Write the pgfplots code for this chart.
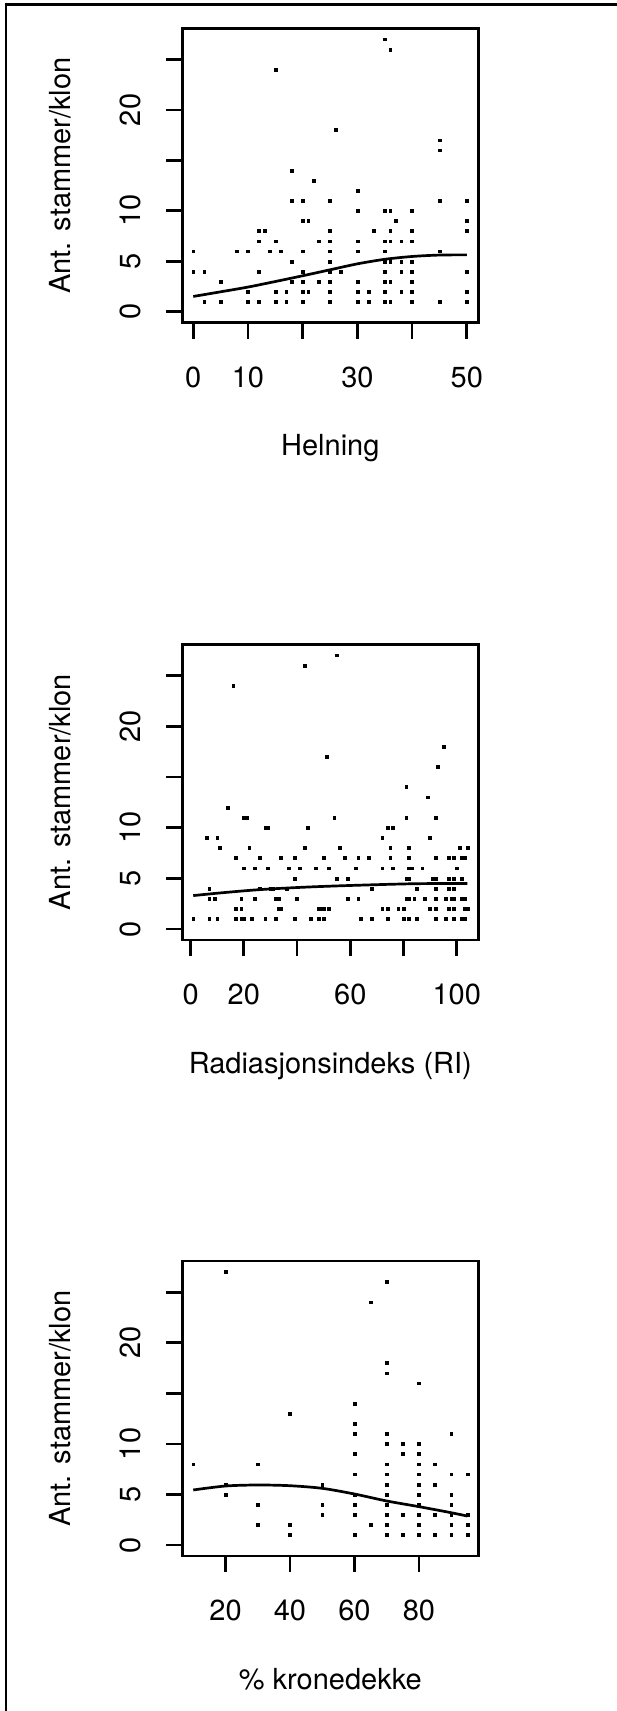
\documentclass[border=0pt]{standalone}
\usepackage{fontspec}
\setmainfont{TeX Gyre Heros}
\usepackage{pgfplots}
\pgfplotsset{compat=1.18}
\newcommand\rf{\fontsize{29}{34}\selectfont}
\pgfplotsset{rplot/.style={
  scale only axis, width=296pt,
  anchor=south west,
  axis line style={line width=2.7pt, line cap=rect},
  tick align=outside, tick pos=left,
  major tick length=16pt,
  every tick/.style={black, line width=2.7pt},
  ymin=-1.08, ymax=28.08,
  ytick={0,5,...,25}, yticklabels={0,5,10,,20,},
  tick label style={font=\rf, inner sep=0pt},
  yticklabel style={rotate=90, anchor=base, yshift=25.6pt},
  xticklabel style={anchor=base, yshift=-48.6pt},
  ylabel={Ant. stammer/klon},
  xlabel style={at={(axis description cs:0.5,-0.4508)}, anchor=base, font=\rf, inner sep=0pt},
  ylabel style={at={(axis description cs:-0.377,0.5)}, anchor=base, font=\rf, inner sep=0pt},
  clip=false,
  /pgf/number format/assume math mode=true,
}, pts/.style={only marks, mark=square*, mark size=1.4pt, mark options={draw=none, fill=black}},
   fit/.style={no marks, smooth, line width=2.7pt, black}}
\begin{document}
\begin{tikzpicture}
\useasboundingbox (0pt,0pt) rectangle (617pt,-1711pt);
\draw[line width=2.7pt] (6pt,-1711pt) -- (6pt,-4.7pt) -- (617pt,-4.7pt);
% Panel 1
\begin{axis}[rplot, at={(182.3pt,-322.7pt)}, height=294.4pt,
  xmin=-2, xmax=52.1, xtick={0,10,...,50}, xticklabels={0,10,,30,,50},
  xlabel={Helning}]
\addplot[pts] table {
x y
35 27
36 26
15 24
26 18
45 17
45 16
18 14
22 13
30 12
18 11
20 11
25 11
45 11
50 11
30 10
35 10
36 10
40 10
20 9
21 9
37 9
50 9
12 8
13 8
25 8
33 8
36 8
40 8
50 8
12 7
15 7
23 7
25 7
30 7
35 7
36 7
38 7
40 7
0 6
8 6
10 6
14 6
16 6
20 6
25 6
30 6
35 6
45 6
18 5
25 5
35 5
36 5
38 5
40 5
0 4
2 4
12 4
20 4
25 4
27 4
35 4
38 4
40 4
50 4
5 3
18 3
20 3
23 3
25 3
30 3
35 3
36 3
40 3
10 2
15 2
17 2
20 2
21 2
25 2
30 2
32 2
35 2
38 2
40 2
50 2
2 1
5 1
10 1
12 1
15 1
17 1
20 1
25 1
30 1
32 1
35 1
36 1
40 1
45 1
50 1
};
\addplot[fit] coordinates {(0,1.52) (5,1.98) (10,2.45) (15,3.0) (20,3.57) (25,4.16) (30,4.75) (35,5.2) (40,5.48) (45,5.62) (50,5.64)};
\end{axis}
% Panel 2
\begin{axis}[rplot, at={(182.3pt,-940pt)}, height=295.7pt,
  xmin=-3.12, xmax=108.12, xtick={0,20,...,100}, xticklabels={0,20,,60,,100},
  xlabel={Radiasjonsindeks (RI)}]
\addplot[pts] table {
x y
55 27
43 26
16 24
95 18
51 17
93 16
81 14
89 13
14 12
20 11
21 11
54 11
81 11
92 11
28 10
29 10
44 10
74 10
76 10
6 9
10 9
72 9
90 9
11 8
22 8
43 8
56 8
75 8
82 8
101 8
104 8
17 7
26 7
34 7
39 7
50 7
58 7
63 7
67 7
75 7
82 7
92 7
97 7
99 7
102 7
103 7
20 6
24 6
29 6
37 6
41 6
47 6
52 6
62 6
72 6
76 6
82 6
83 6
87 6
100 6
39 5
55 5
59 5
81 5
82 5
91 5
92 5
97 5
99 5
102 5
7 4
26 4
30 4
31 4
36 4
68 4
85 4
92 4
97 4
99 4
7 3
9 3
19 3
24 3
32 3
33 3
40 3
59 3
63 3
81 3
82 3
84 3
88 3
92 3
96 3
98 3
99 3
102 3
103 3
17 2
19 2
33 2
34 2
48 2
49 2
50 2
52 2
72 2
74 2
78 2
80 2
90 2
92 2
97 2
99 2
103 2
104 2
1 1
7 1
10 1
17 1
19 1
20 1
23 1
28 1
32 1
39 1
45 1
48 1
50 1
64 1
68 1
74 1
80 1
82 1
85 1
92 1
96 1
99 1
102 1
103 1
};
\addplot[fit] coordinates {(1,3.3) (11,3.56) (26,3.89) (42,4.12) (59,4.29) (84,4.47) (104,4.49)};
\end{axis}
% Panel 3
\begin{axis}[rplot, at={(182.3pt,-1556pt)}, height=295pt,
  xmin=6.6, xmax=98.4, xtick={20,40,60,80}, xticklabels={20,40,60,80},
  xlabel={\% kronedekke}]
\addplot[pts] table {
x y
20 27
70 26
65 24
70 18
70 17
80 16
60 14
40 13
60 12
60 11
70 11
90 11
70 10
75 10
80 10
60 9
75 9
80 9
10 8
30 8
70 8
80 8
85 8
60 7
70 7
80 7
90 7
95 7
20 6
50 6
70 6
80 6
85 6
20 5
60 5
70 5
80 5
90 5
30 4
50 4
60 4
70 4
80 4
90 4
50 3
60 3
70 3
75 3
80 3
85 3
90 3
95 3
30 2
40 2
65 2
70 2
80 2
90 2
95 2
40 1
60 1
70 1
75 1
80 1
85 1
90 1
95 1
};
\addplot[fit] coordinates {(10,5.45) (20,5.84) (30,5.94) (40,5.87) (50,5.61) (60,5.05) (70,4.36) (80,3.8) (90,3.2) (95,2.87)};
\end{axis}
\end{tikzpicture}
\end{document}
